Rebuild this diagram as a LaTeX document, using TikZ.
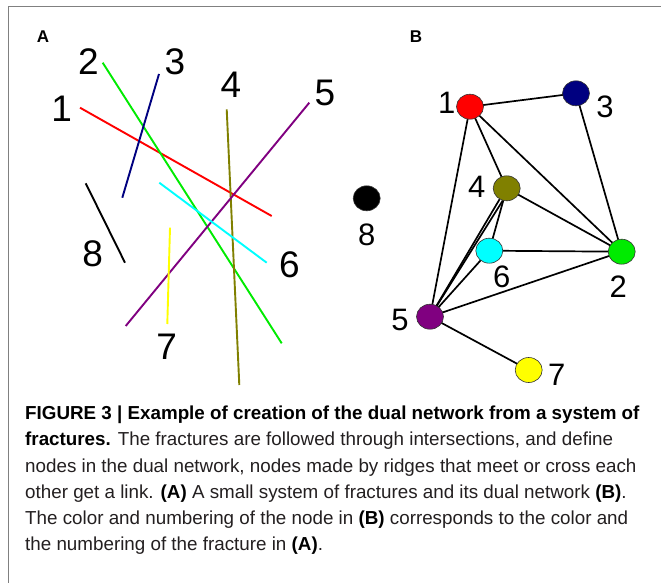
\documentclass[tikz,border=0pt]{standalone}
\usepackage{fontspec}
\setmainfont{Liberation Sans}
\usetikzlibrary{shapes.geometric,backgrounds}
\definecolor{fr1}{RGB}{255,0,0}
\definecolor{fr2}{RGB}{0,235,0}
\definecolor{fr3}{RGB}{0,0,128}
\definecolor{fr4}{RGB}{128,128,0}
\definecolor{fr5}{RGB}{128,0,128}
\definecolor{fr6}{RGB}{0,255,255}
\definecolor{fr7}{RGB}{255,255,0}
\definecolor{framegray}{RGB}{128,128,128}
\definecolor{captext}{RGB}{35,31,32}
\begin{document}
\begin{tikzpicture}[x=1pt,y=-1pt,
  frac/.style={line width=1.9pt},
  numA/.style={font=\fontsize{37}{37}\selectfont, inner sep=0pt},
  numB/.style={font=\fontsize{31}{31}\selectfont, inner sep=0pt},
  vert/.style={ellipse, draw=black!80, line width=0.6pt, minimum width=27pt, minimum height=25pt, inner sep=0pt},
  link/.style={line width=1.7pt, black},
  capline/.style={anchor=base west, inner sep=0pt, font=\fontsize{18.8}{22}\selectfont, text=captext},
  panel/.style={font=\bfseries\fontsize{17}{17}\selectfont, inner sep=0pt}
]
\useasboundingbox (0,0) rectangle (661,583);
\begin{scope}[on background layer]
\fill[white] (0,0) rectangle (661,583);
\end{scope}
\draw[framegray, line width=1.5pt] (8.5,583) -- (8.5,6.5) -- (661,6.5);

% panel labels
\node[panel] (pa) at (43,36.7) {A};
\node[panel] (pb) at (416,36.7) {B};

% panel A: fractures
\draw[frac, fr1] (80,107.7) -- (271.7,216);
\draw[frac, fr2] (102.7,62.7) -- (281.7,343.3);
\draw[frac, fr3] (159,74) -- (122.3,197.7);
\draw[frac, fr4] (226.7,109.3) -- (239.3,385);
\draw[frac, fr5] (309.3,102.7) -- (125.7,326);
\draw[frac, fr6] (159.3,182.7) -- (266.7,262.7);
\draw[frac, fr7] (170,227.7) -- (167.3,324);
\draw[frac, black] (85.7,183.3) -- (125,262.7);

\node[numA] (a1) at (61.7,108.3) {1};
\node[numA] (a2) at (88.3,61.7) {2};
\node[numA] (a3) at (175,61.7) {3};
\node[numA] (a4) at (231,85) {4};
\node[numA] (a5) at (325,93.3) {5};
\node[numA] (a6) at (289.3,265) {6};
\node[numA] (a7) at (166.7,346.7) {7};
\node[numA] (a8) at (92.7,253.3) {8};

% panel B: dual network
\node[vert, fill=fr1] (n1) at (470,106.7) {};
\node[vert, fill=fr3] (n3) at (576,93.3) {};
\node[vert, fill=fr4] (n4) at (506.7,188.3) {};
\node[vert, fill=fr6] (n6) at (489.3,250.7) {};
\node[vert, fill=fr2] (n2) at (621.7,251.7) {};
\node[vert, fill=fr5] (n5) at (430,316.7) {};
\node[vert, fill=fr7] (n7) at (528.7,370) {};
\node[vert, fill=black] (n8) at (366.7,198.3) {};

\begin{scope}[on background layer]
\draw[link] (n1.center) -- (n3.center);
\draw[link] (n1.center) -- (n4.center);
\draw[link] (n1.center) -- (n2.center);
\draw[link] (n1.center) -- (n5.center);
\draw[link] (n3.center) -- (n2.center);
\draw[link] (n4.center) -- (n2.center);
\draw[link] (n4.center) -- (n6.center);
\draw[link] (n5.center) -- (n4.237);
\draw[link] (n5.center) -- (n4.252);
\draw[link] (n6.center) -- (n2.center);
\draw[link] (n6.center) -- (n5.center);
\draw[link] (n2.center) -- (n5.center);
\draw[link] (n5.center) -- (n7.center);
\end{scope}

\node[numB] (b1) at (446.7,103.3) {1};
\node[numB] (b3) at (605,106.7) {3};
\node[numB] (b4) at (476.7,186.7) {4};
\node[numB] (b8) at (366.7,235) {8};
\node[numB] (b6) at (501.7,276.7) {6};
\node[numB] (b2) at (618.3,286.7) {2};
\node[numB] (b5) at (400,320) {5};
\node[numB] (b7) at (556.7,375) {7};

% caption
\node[capline, text=black] (c1) at (25,419) {\bfseries FIGURE 3 | Example of creation of the dual network from a system of};
\node[capline] (c2) at (25,445.5) {\textbf{\color{black}fractures.} The fractures are followed through intersections, and define};
\node[capline] (c3) at (25,472) {nodes in the dual network, nodes made by ridges that meet or cross each};
\node[capline] (c4) at (25,498) {other get a link. \textbf{\color{black}(A)} A small system of fractures and its dual network \textbf{\color{black}(B)}.};
\node[capline] (c5) at (25,524) {The color and numbering of the node in \textbf{\color{black}(B)} corresponds to the color and};
\node[capline] (c6) at (25,550.5) {the numbering of the fracture in \textbf{\color{black}(A)}.};
\end{tikzpicture}
\end{document}
